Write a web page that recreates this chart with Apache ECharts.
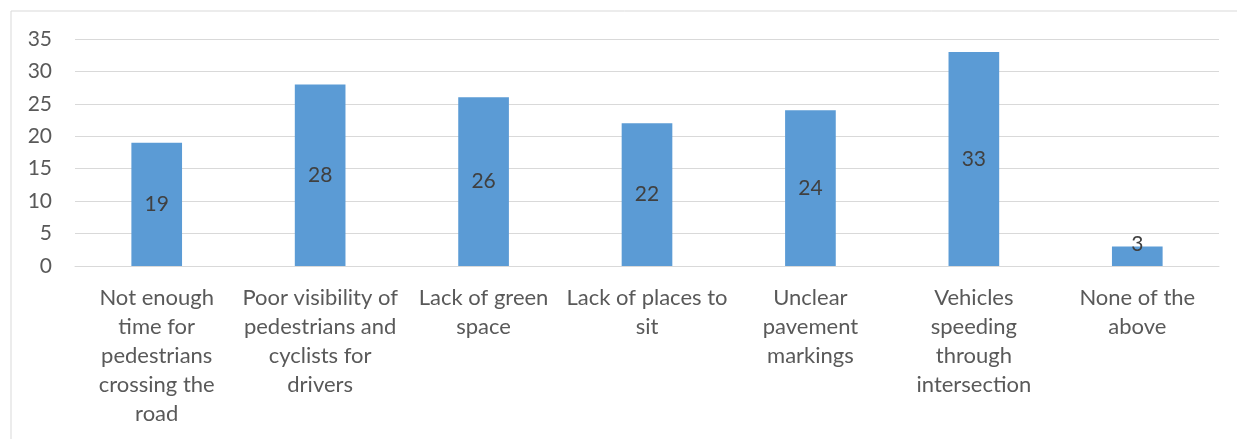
<!DOCTYPE html>
<html>
<head>
<meta charset="utf-8">
<script src="https://cdn.jsdelivr.net/npm/echarts@6/dist/echarts.min.js"></script>
<style>
html,body{margin:0;padding:0;background:#fff;}
#chart{width:1237px;height:439px;}
</style>
</head>
<body>
<div id="chart"></div>
<script>
const categories = [
  "Not enough\ntime for\npedestrians\ncrossing the\nroad",
  "Poor visibility of\npedestrians and\ncyclists for\ndrivers",
  "Lack of green\nspace",
  "Lack of places to\nsit",
  "Unclear\npavement\nmarkings",
  "Vehicles\nspeeding\nthrough\nintersection",
  "None of the\nabove"
];
const values = [19, 28, 26, 22, 24, 33, 3];
const yTicks = { min: 0, max: 35, interval: 5 };

const FONT = 'Lato';
const chart = echarts.init(document.getElementById('chart'), null, { renderer: 'canvas' });

const seriesData = values.map(v => {
  if (v < 5) {
    return { value: v, label: { position: 'top', distance: -8 } };
  }
  return v;
});

chart.setOption({
  animation: false,
  backgroundColor: '#ffffff',
  graphic: [{
    type: 'rect',
    shape: { x: 11, y: 11, width: 1400, height: 600 },
    style: { fill: 'none', stroke: '#d9d9d9', lineWidth: 1 },
    silent: true
  }],
  grid: { left: 75, right: 18, top: 39, bottom: 173, containLabel: false },
  xAxis: {
    type: 'category',
    data: categories,
    axisLine: { show: true, lineStyle: { color: '#d9d9d9', width: 1 } },
    axisTick: { show: false },
    axisLabel: {
      interval: 0,
      margin: 17,
      color: '#595959',
      fontFamily: FONT,
      fontSize: 22,
      lineHeight: 29,
      align: 'center'
    }
  },
  yAxis: {
    type: 'value',
    min: yTicks.min,
    max: yTicks.max,
    interval: yTicks.interval,
    axisLine: { show: false },
    axisTick: { show: false },
    splitLine: { lineStyle: { color: '#d9d9d9', width: 1 } },
    axisLabel: {
      margin: 23,
      color: '#595959',
      fontFamily: FONT,
      fontSize: 21
    }
  },
  series: [{
    type: 'bar',
    data: seriesData,
    barWidth: '31%',
    itemStyle: { color: '#5b9bd5' },
    label: {
      show: true,
      position: 'inside',
      color: '#404040',
      fontFamily: FONT,
      fontSize: 21
    }
  }]
});
</script>
</body>
</html>
